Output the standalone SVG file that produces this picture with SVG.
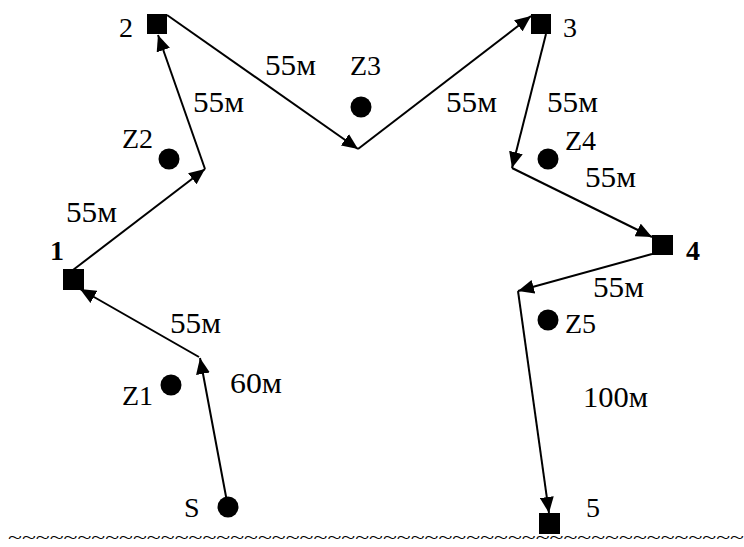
<svg xmlns="http://www.w3.org/2000/svg" width="744" height="547" viewBox="0 0 744 547">
<style>
text{font-family:'Liberation Serif','Tinos','DejaVu Serif',serif;font-size:28px;fill:#000}
.d{font-size:29px}
.b{font-weight:bold}
.edge{stroke:#000;stroke-width:2;fill:none}
.sq{fill:#000}
.dot{fill:#000}
.shore{font-size:17px}
</style>
<defs>
<marker id="ah" viewBox="0 0 16 14" refX="16" refY="7" markerWidth="16" markerHeight="14" markerUnits="userSpaceOnUse" orient="auto">
<path d="M0,0 L16,7 L0,14 z" fill="#000"/>
</marker>
</defs>
<rect width="744" height="547" fill="#fff"/>
<g id="connectors">
<path class="edge" d="M228,507 L200,358" marker-end="url(#ah)"/>
<path class="edge" d="M199,357 L80,289" marker-end="url(#ah)"/>
<path class="edge" d="M73,270 L205,169" marker-end="url(#ah)"/>
<path class="edge" d="M205,169 L158,35" marker-end="url(#ah)"/>
<path class="edge" d="M167,15 L358,149" marker-end="url(#ah)"/>
<path class="edge" d="M358,149 L531,16" marker-end="url(#ah)"/>
<path class="edge" d="M546,34 L512,168" marker-end="url(#ah)"/>
<path class="edge" d="M512,168 L652,237" marker-end="url(#ah)"/>
<path class="edge" d="M652,254 L518,291" marker-end="url(#ah)"/>
<path class="edge" d="M518,291 L549,513" marker-end="url(#ah)"/>
</g>
<g id="edge-labels">
<text class="d" x="230" y="393" textLength="52" lengthAdjust="spacingAndGlyphs">60м</text>
<text class="d" x="170" y="333" textLength="51" lengthAdjust="spacingAndGlyphs">55м</text>
<text class="d" x="66" y="222" textLength="51" lengthAdjust="spacingAndGlyphs">55м</text>
<text class="d" x="193" y="112" textLength="51" lengthAdjust="spacingAndGlyphs">55м</text>
<text class="d" x="265" y="75" textLength="51" lengthAdjust="spacingAndGlyphs">55м</text>
<text class="d" x="446" y="112" textLength="51" lengthAdjust="spacingAndGlyphs">55м</text>
<text class="d" x="547" y="112" textLength="51" lengthAdjust="spacingAndGlyphs">55м</text>
<text class="d" x="585" y="187" textLength="51" lengthAdjust="spacingAndGlyphs">55м</text>
<text class="d" x="593" y="297" textLength="51" lengthAdjust="spacingAndGlyphs">55м</text>
<text class="d" x="583" y="407" textLength="65" lengthAdjust="spacingAndGlyphs">100м</text>
</g>
<g id="node-S"><circle class="dot" cx="228" cy="507" r="10.5"/><text x="184" y="517">S</text></g>
<g id="node-1"><rect class="sq" x="63" y="269" width="21" height="21"/><text class="b" x="50" y="260">1</text></g>
<g id="node-2"><rect class="sq" x="147" y="14" width="20" height="20"/><text x="119" y="37">2</text></g>
<g id="node-3"><rect class="sq" x="531" y="14" width="20" height="20"/><text x="563" y="37">3</text></g>
<g id="node-4"><rect class="sq" x="652" y="235" width="21" height="20"/><text class="b" x="686" y="260">4</text></g>
<g id="node-5"><rect class="sq" x="539" y="513" width="21" height="21"/><text x="586" y="517">5</text></g>
<g id="node-Z1"><circle class="dot" cx="171" cy="385" r="10.5"/><text x="122" y="405">Z1</text></g>
<g id="node-Z2"><circle class="dot" cx="169" cy="159" r="10.5"/><text x="122" y="148">Z2</text></g>
<g id="node-Z3"><circle class="dot" cx="361" cy="107" r="10.5"/><text x="350" y="75">Z3</text></g>
<g id="node-Z4"><circle class="dot" cx="548" cy="159" r="10.5"/><text x="565" y="150">Z4</text></g>
<g id="node-Z5"><circle class="dot" cx="548" cy="320" r="10.5"/><text x="565" y="333">Z5</text></g>
<g id="shoreline"><text class="shore" x="8" y="543" textLength="736" lengthAdjust="spacingAndGlyphs">~~~~~~~~~~~~~~~~~~~~~~~~~~~~~~~~~~~~~~~~~~~~~~~~~~~~~</text></g>
</svg>
